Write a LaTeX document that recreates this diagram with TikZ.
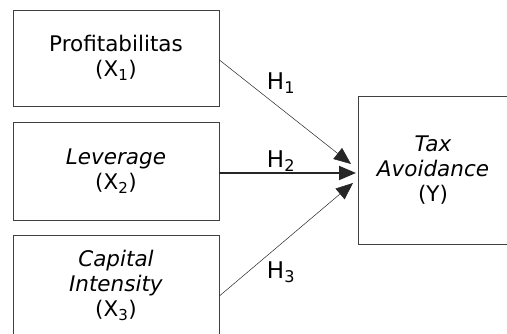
\documentclass[tikz,border=0pt]{standalone}
\usepackage{fontspec}
\setmainfont{DejaVu Sans}
\usetikzlibrary{arrows.meta}
\begin{document}
\begin{tikzpicture}[x=1pt,y=1pt,
    varbox/.style={draw=black!75,line width=0.8pt,minimum width=206pt,inner sep=0pt,
        align=center,font=\fontsize{21.5}{25}\selectfont},
    hyp/.style={-{Triangle[length=17pt,width=14pt]},black!85},
    hlabel/.style={font=\fontsize{23}{25}\selectfont}]
    \useasboundingbox (0,0) rectangle (507,334);
    \clip (0,0) rectangle (507,334);
    %independent variables
    \node[varbox,minimum height=96pt] (x1) at (116,276) {Profitabilitas\\(X\textsubscript{1})};
    \node[varbox,minimum height=98pt] (x2) at (116,163) {\textit{Leverage}\\(X\textsubscript{2})};
    \node[varbox,minimum height=100pt] (x3) at (116,49) {\textit{Capital}\\\textit{Intensity}\\(X\textsubscript{3})};
    %dependent variable
    \node[varbox,minimum width=150pt,minimum height=148pt] (y) at (433,164) {\textit{Tax}\\\textit{Avoidance}\\(Y)};
    %arrow tips
    \coordinate (t1) at (351,170);
    \coordinate (t2) at (356,161);
    \coordinate (t3) at (353,151);
    %hypotheses
    \draw[hyp,line width=0.5pt] (x1.east |- 0,274) -- (t1);
    \draw[hyp,line width=2pt] (x2.east |- 0,161) -- (t2);
    \draw[hyp,line width=0.5pt] (x3.east |- 0,38) -- (t3);
    \node[hlabel] (h1) at (281,251) {H\textsubscript{1}};
    \node[hlabel] (h2) at (281,173) {H\textsubscript{2}};
    \node[hlabel] (h3) at (281,62) {H\textsubscript{3}};
\end{tikzpicture}
\end{document}
